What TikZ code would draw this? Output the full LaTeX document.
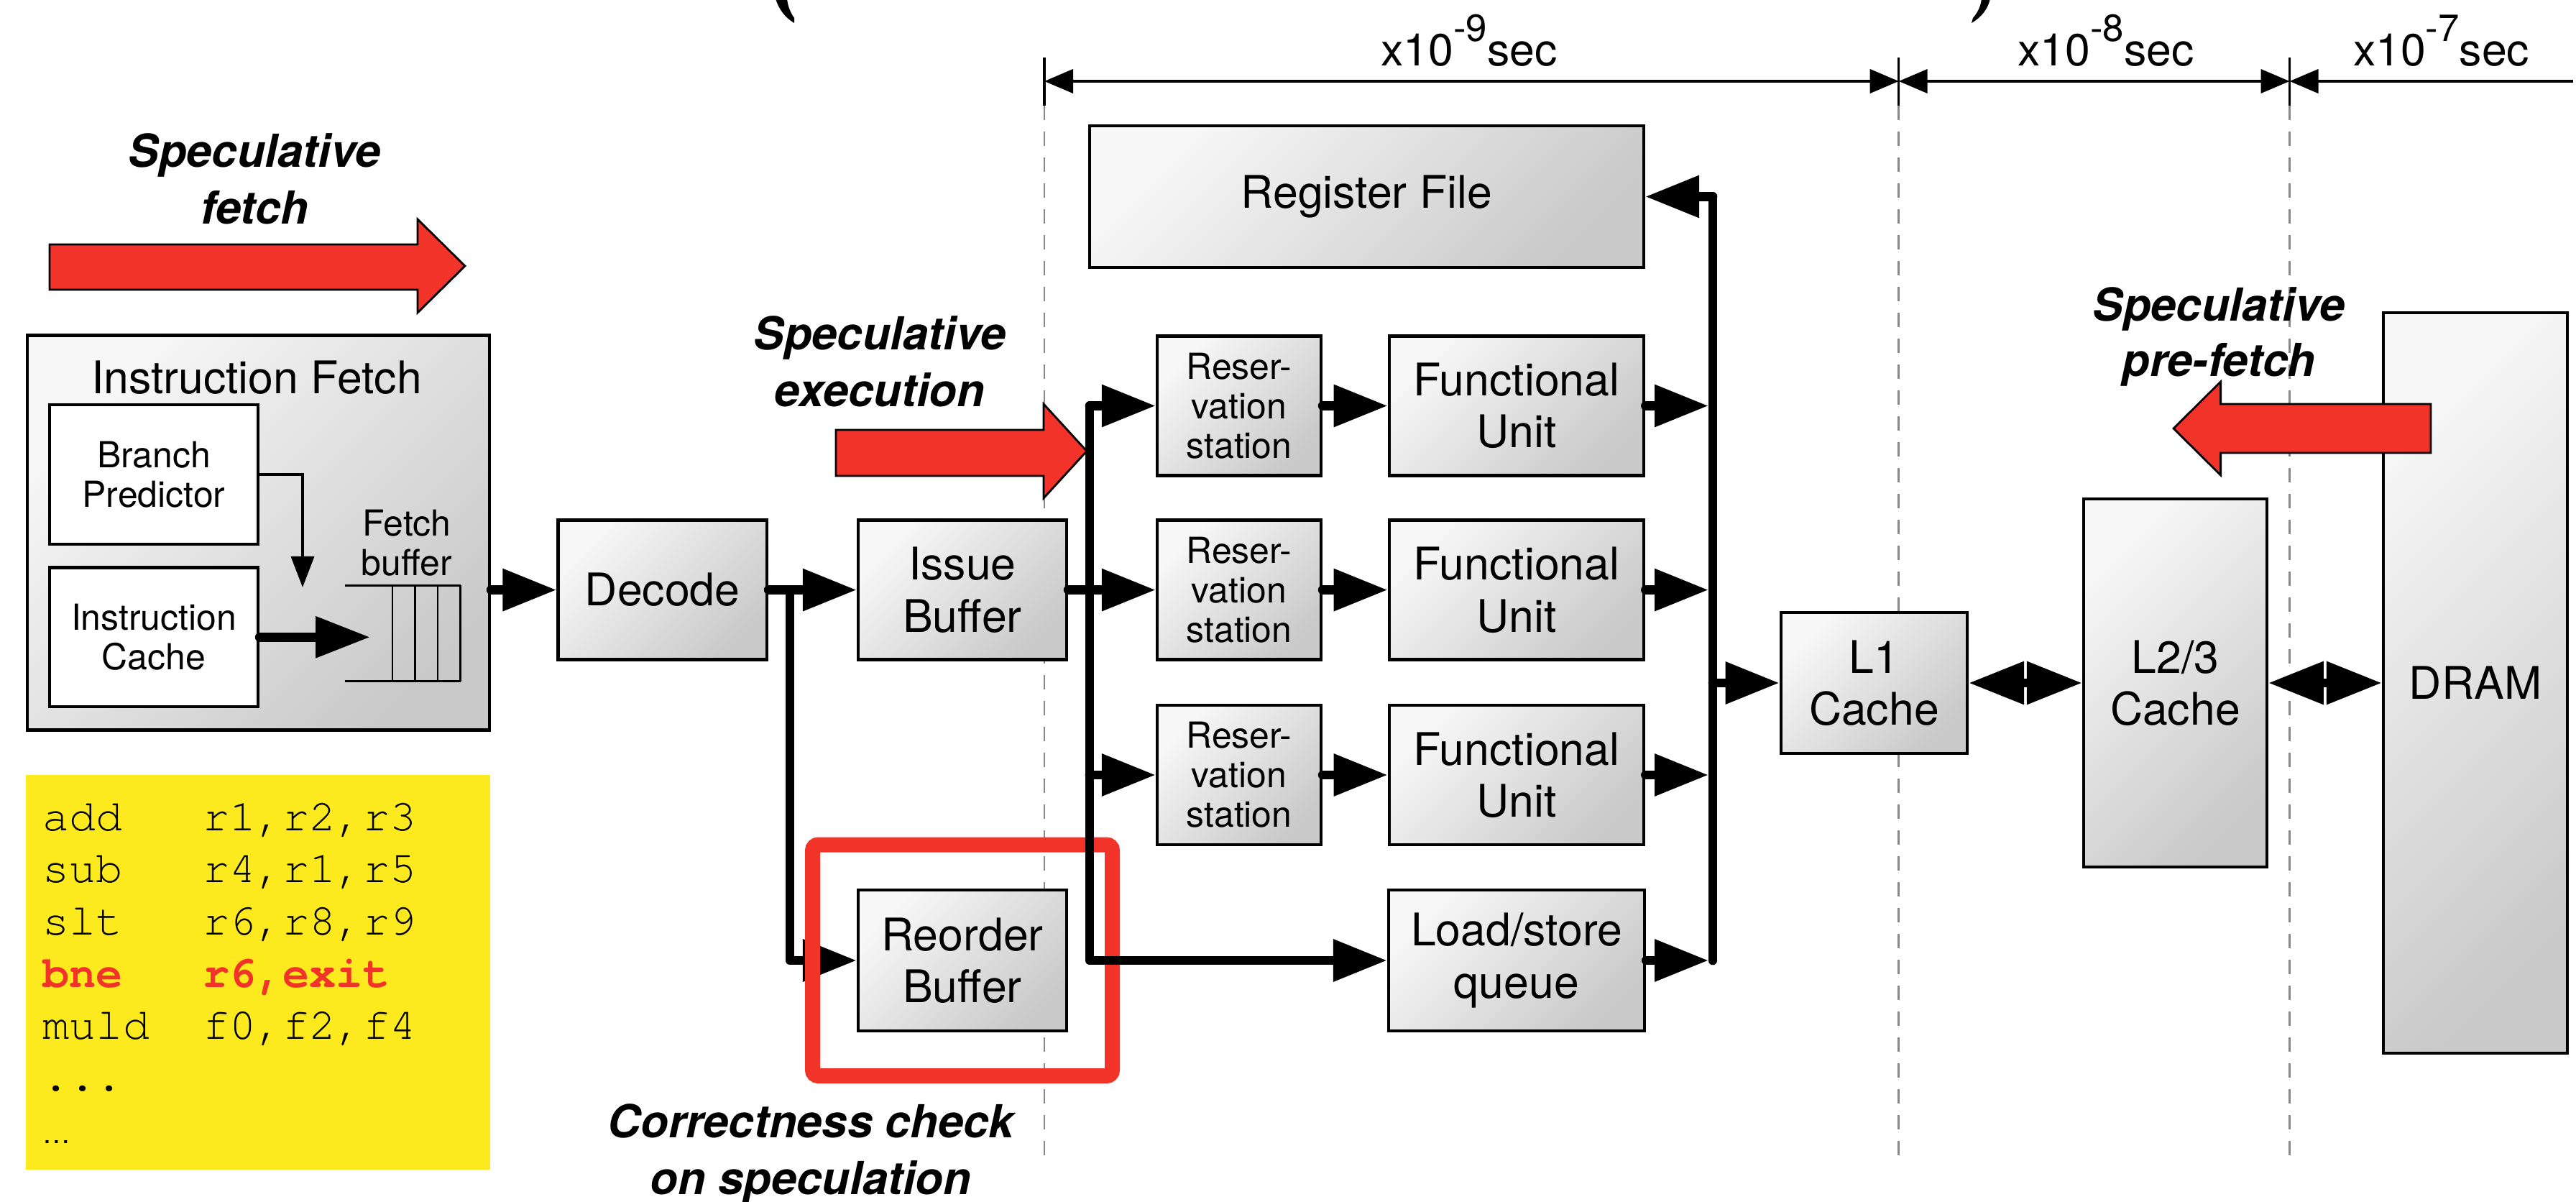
\documentclass[tikz,border=0pt]{standalone}
\usepackage{fontspec}
\setmainfont{TeX Gyre Heros}
\newfontfamily\codefont{TeX Gyre Cursor}
\usetikzlibrary{arrows.meta}

\definecolor{alarm}{RGB}{242,51,41}
\definecolor{note}{RGB}{252,234,30}
\definecolor{divider}{RGB}{135,135,135}

\newcommand\unitfont{\fontsize{17.8}{20.6}\selectfont}
\newcommand\stationfont{\fontsize{14.2}{15.6}\selectfont}
\newcommand\notefont{\fontsize{18}{22.5}\selectfont\bfseries\itshape}
\newcommand\listingfont{\fontsize{17.6}{20.6}\selectfont\codefont}

\tikzset{
  unit/.style={draw=black, line width=1.2pt, top color=black!3, bottom color=black!21,
               shading angle=45, align=center, inner sep=0pt, font=\unitfont},
  plainunit/.style={draw=black, line width=1.2pt, fill=white, align=center,
               inner sep=0pt, font=\stationfont},
  wire/.style={line width=3.6pt, line cap=round, line join=round},
  bigtip/.tip={Triangle[length=7.5mm,width=5.6mm]},
  duotip/.tip={Triangle[length=7.7mm,width=5.7mm]},
  thintip/.tip={Triangle[length=4.3mm,width=3.2mm]},
  dimtip/.tip={Triangle[length=4mm,width=3.3mm]},
  blockarrow/.style={fill=alarm, draw=black, line width=0.8pt, line join=miter},
  remark/.style={font=\notefont, anchor=base, inner sep=0pt},
  divline/.style={divider, line width=0.8pt, dash pattern=on 2mm off 1.6mm},
  listing/.style={font=\listingfont, anchor=base west, inner sep=0pt},
}

\begin{document}
\begin{tikzpicture}
\useasboundingbox (0,0) rectangle (35.84,-16.72);

% tails of the large brackets at the top edge
\fill (10.79,0.02) .. controls (10.84,-0.14) and (10.93,-0.25) .. (11.05,-0.32)
  -- (11.05,-0.25) .. controls (11.00,-0.18) and (10.96,-0.09) .. (10.95,0.02) -- cycle;
\fill (27.69,0.02) .. controls (27.66,-0.12) and (27.57,-0.24) .. (27.43,-0.32)
  -- (27.45,-0.25) .. controls (27.52,-0.17) and (27.56,-0.08) .. (27.57,0.02) -- cycle;

% time-scale boundaries
\coordinate (t1) at (14.53,-1.13);
\coordinate (t2) at (26.417,-1.13);
\coordinate (t3) at (31.855,-1.13);
\coordinate (t4) at (35.80,-1.13);
\foreach \p in {t1,t2,t3}{
  \draw[divline] (\p) ++(0,-0.34) -- ++(0,-14.73);
  \draw[line width=0.9pt] (\p) ++(0,0.33) -- ++(0,-0.67);
}
\draw[line width=1.1pt, dimtip-dimtip] (t1) -- (t2);
\draw[line width=1.1pt, dimtip-dimtip] (t2) -- (t3);
\draw[line width=1.1pt, dimtip-] (t3) -- (t4);
\node[font=\unitfont, anchor=base, inner sep=0pt] (s9) at (20.44,-0.92)
  {x10\raisebox{0.55em}{\fontsize{15}{15}\selectfont -9}sec};
\node[font=\unitfont, anchor=base, inner sep=0pt] (s8) at (29.30,-0.92)
  {x10\raisebox{0.55em}{\fontsize{15}{15}\selectfont -8}sec};
\node[font=\unitfont, anchor=base, inner sep=0pt] (s7) at (33.966,-0.92)
  {x10\raisebox{0.55em}{\fontsize{15}{15}\selectfont -7}sec};

% instruction fetch unit
\node[unit, minimum width=6.43cm, minimum height=5.49cm] (ifetch) at (3.595,-7.411) {};
\node[font=\unitfont, anchor=base, inner sep=0pt] (iftitle) at (3.57,-5.48) {Instruction Fetch};
\node[plainunit, minimum width=2.90cm, minimum height=1.94cm] (bp) at (2.14,-6.60) {Branch\\Predictor};
\node[plainunit, minimum width=2.90cm, minimum height=1.934cm] (ic) at (2.14,-8.863) {Instruction\\Cache};
\node[font=\stationfont, anchor=base, inner sep=0pt] (fb1) at (5.66,-7.46) {Fetch};
\node[font=\stationfont, anchor=base, inner sep=0pt] (fb2) at (5.66,-8.01) {buffer};
\draw[line width=1pt] (4.796,-8.145) -- (6.408,-8.145) (4.796,-9.477) -- (6.408,-9.477);
\foreach \x in {5.46,5.776,6.09,6.408}
  \draw[line width=0.8pt] (\x,-8.145) -- (\x,-9.477);
\coordinate (bptip) at (4.21,-8.17);
\coordinate (ictip) at (5.15,-8.863);
\draw[line width=1pt, -thintip] (bp.east) -| (bptip);
\draw[wire, -{Triangle[length=7.6mm,width=5.5mm]}] (ic.east) -- (ictip);

% pipeline units
\node[unit, minimum width=2.905cm, minimum height=1.94cm] (decode) at (9.2175,-8.206) {Decode};
\node[unit, minimum width=2.90cm, minimum height=1.94cm] (issue) at (13.39,-8.206) {Issue\\Buffer};
\node[unit, minimum width=2.90cm, minimum height=1.96cm] (rob) at (13.39,-13.36) {Reorder\\Buffer};
\node[unit, minimum width=7.714cm, minimum height=1.97cm] (regfile) at (19.013,-2.735) {Register File};
\foreach \i/\y in {1/-5.645,2/-8.206,3/-10.78}{
  \node[unit, font=\stationfont, minimum width=2.28cm, minimum height=1.94cm] (rs\i) at (17.24,\y) {Reser-\\vation\\station};
  \node[unit, minimum width=3.545cm, minimum height=1.94cm] (fu\i) at (21.10,\y) {Functional\\Unit};
}
\node[unit, minimum width=3.56cm, minimum height=1.96cm] (lsq) at (21.10,-13.36) {Load/store\\queue};
\node[unit, minimum width=2.592cm, minimum height=1.96cm] (l1) at (26.074,-9.50) {L1\\Cache};
\node[unit, minimum width=2.548cm, minimum height=5.124cm] (l2) at (30.264,-9.50) {L2/3\\Cache};
\node[unit, minimum width=2.56cm, minimum height=10.303cm] (dram) at (34.44,-9.50) {DRAM};

% program listing
\node[fill=note, minimum width=6.459cm, minimum height=5.485cm, inner sep=0pt, anchor=north west] (code) at (0.357,-10.775) {};
\node[listing] (c1) at (0.59,-11.55) {add\ \ \ r1,r2,r3};
\node[listing] (c2) at (0.59,-12.276) {sub\ \ \ r4,r1,r5};
\node[listing] (c3) at (0.59,-13.00) {slt\ \ \ r6,r8,r9};
\node[listing, text=alarm, font=\listingfont\bfseries] (c4) at (0.59,-13.73) {bne\ \ \ r6,exit};
\node[listing] (c5) at (0.59,-14.456) {muld\ \ f0,f2,f4};
\node[listing] (c6) at (0.59,-15.178) {...};
\node[listing, font=\fontsize{11}{13}\selectfont] (c7) at (0.59,-15.90) {\ldots};

% connections
\coordinate (dj) at (10.99,-8.206);
\coordinate (bt) at (15.16,-5.645);
\coordinate (rt) at (23.83,-2.735);
\coordinate (rb) at (23.83,-13.36);
\coordinate (rbx) at (23.77,0);
\draw[wire, -bigtip] (ifetch.east |- decode.west) -- (decode.west);
\draw[wire, -bigtip] (decode.east) -- (issue.west);
\draw[wire, -bigtip] (dj) |- (rob.west);

% reorder buffer highlight
\draw[alarm, line width=0.21cm, rounded corners=0.08cm] (11.305,-11.75) rectangle (15.475,-14.966);

\draw[wire, -bigtip] (bt) |- (lsq.west);
\draw[wire, -bigtip] (bt) -- (rs1.west);
\draw[wire, -bigtip] (issue.east) -- (rs2.west);
\draw[wire, -bigtip] (bt |- rs3.west) -- (rs3.west);
\foreach \i in {1,2,3}{
  \draw[wire, -bigtip] (rs\i.east) -- (fu\i.west);
  \draw[wire, -bigtip] (fu\i.east) -- (fu\i.east -| rbx);
}
\draw[wire, -bigtip] (lsq.east) -- (lsq.east -| rbx);
\draw[wire] (rt) -- (rb);
\draw[wire, -bigtip] (rt) -- (regfile.east);
\draw[wire, -bigtip] (rt |- l1.west) -- (l1.west);
\draw[wire, duotip-duotip] (l1.east) -- (l2.west);
\draw[wire, duotip-duotip] (l2.east) -- (dram.west);

% speculation arrows
\draw[blockarrow] (0.69,-3.40) -- (5.81,-3.40) -- (5.81,-3.05) -- (6.47,-3.70)
  -- (5.81,-4.35) -- (5.81,-4.03) -- (0.69,-4.03) -- cycle;
\draw[blockarrow] (11.63,-5.98) -- (14.52,-5.98) -- (14.52,-5.62) -- (15.12,-6.275)
  -- (14.52,-6.93) -- (14.52,-6.62) -- (11.63,-6.62) -- cycle;
\draw[blockarrow] (33.82,-5.62) -- (30.896,-5.62) -- (30.896,-5.31) -- (30.24,-5.96)
  -- (30.896,-6.61) -- (30.896,-6.30) -- (33.82,-6.30) -- cycle;

\node[remark] (sf1) at (3.54,-2.33) {Speculative};
\node[remark] (sf2) at (3.54,-3.12) {fetch};
\node[remark] (se1) at (12.24,-4.87) {Speculative};
\node[remark] (se2) at (12.24,-5.66) {execution};
\node[remark] (sp1) at (30.87,-4.466) {Speculative};
\node[remark] (sp2) at (30.87,-5.24) {pre-fetch};
\node[remark] (cc1) at (11.28,-15.82) {Correctness check};
\node[remark] (cc2) at (11.28,-16.61) {on speculation};
\end{tikzpicture}
\end{document}
